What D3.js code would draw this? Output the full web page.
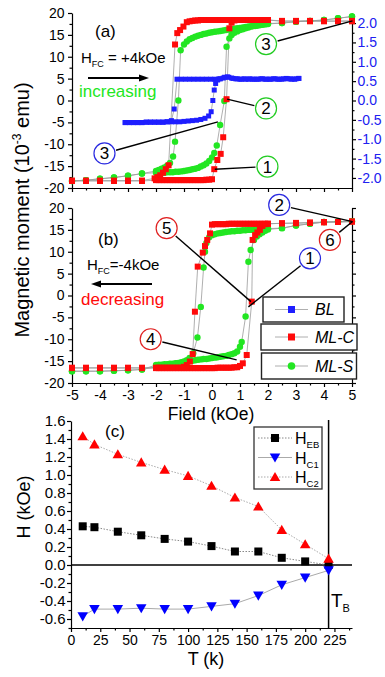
<!DOCTYPE html>
<html>
<head>
<meta charset="utf-8">
<script src="https://cdn.jsdelivr.net/npm/d3@7"></script>
<style>
  body { margin: 0; background: #fff; }
  svg { display: block; font-family: "Liberation Sans", Arial, sans-serif; }
  .axis path, .axis line { stroke: #000; stroke-width: 1.2; }
  .axis text { font-size: 14px; fill: #000; font-family: "Liberation Sans", Arial, sans-serif; }
</style>
</head>
<body>
<svg id="chart" width="385" height="677"></svg>
<script>
/*========== data ===========*/
// panel (a), field-cooled at +4 kOe. [field kOe, moment 1e-3 emu]
var mlcA_dec = [[5,18.2],[4.5,18.2],[4,18.2],[3.5,18.2],[3,18.2],[2.5,18.2],
  [2,18.4],[1.9,18.4],[1.8,18.4],[1.7,18.4],[1.6,18.4],[1.5,18.4],[1.4,18.4],[1.3,18.4],[1.2,18.4],[1.1,18.4],[1,18.4],
  [0.9,18.4],[0.8,18.4],[0.7,18.4],[0.6,18.4],[0.5,18.4],[0.4,18.4],[0.3,18.4],[0.2,18.4],[0.1,18.4],[0,18.4],
  [-0.1,18.4],[-0.2,18.4],[-0.3,18.4],[-0.4,18.4],[-0.5,18.3],[-0.6,18.3],[-0.7,18.2],[-0.8,18.1],[-0.9,17.9],
  [-1.02,16.9],[-1.14,16.1],[-1.24,15.4],[-1.32,12.8],[-1.55,-14.8],[-1.65,-15.7],[-1.75,-16.5],[-1.85,-17.1],[-1.95,-17.5],[-2.05,-17.8],
  [-2.5,-18.3],[-3,-18.3],[-3.5,-18.3],[-4,-18.3],[-4.5,-18.3],[-5,-18.3]];
var mlcA_inc = [[-5,-18.4],[-4.5,-18.4],[-4,-18.4],[-3.5,-18.4],[-3,-18.4],[-2.5,-18.4],
  [-2,-18.2],[-1.9,-18.2],[-1.8,-18.2],[-1.7,-18.2],[-1.6,-18.2],[-1.5,-18.2],[-1.4,-18.2],[-1.3,-18.2],[-1.2,-18.2],[-1.1,-18.2],
  [-1,-18.2],[-0.9,-18.2],[-0.8,-18.2],[-0.7,-18.2],[-0.6,-18.2],[-0.5,-18.2],[-0.4,-18.2],[-0.3,-18.2],[-0.2,-18.1],[-0.1,-18.1],[0,-18.0],
  [0.08,-15.7],[0.19,-13.6],[0.31,-12.2],[0.4,-8.4],[0.52,0.3],[0.62,16.5],[0.7,17.8],[0.8,18.3],
  [0.9,18.4],[1,18.4],[1.1,18.4],[1.2,18.4],[1.3,18.4],[1.4,18.4],[1.5,18.4],[1.6,18.4],[1.7,18.4],[1.8,18.4],[1.9,18.4],[2,18.4],
  [2.5,18.1],[3,18.1],[3.5,18.1],[4,18.1],[4.5,18.1],[5,18.1]];
var mlsA_dec = [[5,19.2],[4.5,18.8],[4,18.4],[3.5,18.2],[3,18.0],[2.5,17.7],
  [2,17.6],[1.9,17.5],[1.8,17.4],[1.7,17.3],[1.6,17.2],[1.5,17.1],[1.4,17.0],[1.3,16.9],[1.2,16.8],[1.1,16.7],[1,16.6],
  [0.9,16.5],[0.8,16.4],[0.7,16.3],[0.6,16.2],[0.5,16.1],[0.4,16.0],[0.3,15.9],[0.2,15.8],[0.1,15.7],[0,15.6],
  [-0.1,15.5],[-0.2,15.3],[-0.3,15.2],[-0.4,15.0],[-0.5,14.8],[-0.6,14.6],[-0.7,14.3],[-0.8,14.0],[-0.9,13.5],[-1,12.8],[-1.12,11.5],
  [-1.2,0.0],[-1.32,-9.4],[-1.39,-12.8],[-1.5,-14.3],[-1.6,-14.9],[-1.7,-15.3],[-1.8,-15.6],[-1.9,-15.9],[-2,-16.1],
  [-2.5,-16.7],[-3,-17.2],[-3.5,-17.6],[-4,-17.9],[-4.5,-18.2],[-5,-18.4]];
var mlsA_inc = [[-5,-18.4],[-4.5,-18.2],[-4,-17.9],[-3.5,-17.6],[-3,-17.2],[-2.5,-16.7],
  [-2,-16.5],[-1.9,-16.5],[-1.8,-16.5],[-1.7,-16.5],[-1.6,-16.4],[-1.5,-16.4],[-1.4,-16.4],[-1.3,-16.3],[-1.2,-16.3],[-1.1,-16.2],
  [-1,-16.1],[-0.9,-16.0],[-0.8,-15.9],[-0.7,-15.7],[-0.6,-15.6],[-0.5,-15.4],[-0.4,-15.1],[-0.3,-14.8],[-0.2,-14.4],[-0.1,-13.8],[0,-13.0],
  [0.08,-12.0],[0.17,-10.3],[0.29,-5.6],[0.44,-0.1],[0.52,12.3],[0.62,14.2],[0.7,15.0],[0.8,15.5],[0.9,15.8],
  [1,16.1],[1.1,16.3],[1.2,16.5],[1.3,16.7],[1.4,16.9],[1.5,17.0],[1.6,17.1],[1.7,17.2],[1.8,17.3],[1.9,17.4],[2,17.5],
  [2.5,17.7],[3,18.0],[3.5,18.2],[4,18.4],[4.5,18.8],[5,19.2]];
// BL loop, read on the right-hand (blue) axis
var blA_dec = [[3.1,0.57],[2.95,0.55],[2.8,0.56],[2.65,0.57],[2.5,0.55],[2.35,0.55],[2.2,0.56],[2.05,0.55],[1.9,0.55],
  [1.75,0.56],[1.6,0.55],[1.45,0.55],[1.3,0.55],[1.15,0.56],[1,0.55],[0.85,0.56],[0.7,0.58],[0.55,0.61],[0.4,0.58],
  [0.25,0.56],[0.1,0.55],[-0.05,0.55],[-0.2,0.55],[-0.35,0.55],[-0.5,0.55],[-0.65,0.55],[-0.8,0.55],[-0.95,0.55],
  [-1.1,0.55],[-1.25,0.55],[-1.35,-0.22],[-1.45,-0.52],[-1.6,-0.55],[-1.75,-0.56],[-1.9,-0.56],[-2.05,-0.56],
  [-2.2,-0.56],[-2.35,-0.56],[-2.5,-0.57],[-2.65,-0.57],[-2.8,-0.57],[-2.95,-0.57],[-3.1,-0.57]];
var blA_inc = [[-3.1,-0.57],[-2.95,-0.57],[-2.8,-0.57],[-2.65,-0.57],[-2.5,-0.57],[-2.35,-0.56],[-2.2,-0.56],
  [-2.05,-0.56],[-1.9,-0.56],[-1.75,-0.56],[-1.6,-0.55],[-1.45,-0.55],[-1.3,-0.55],[-1.15,-0.55],[-1,-0.54],
  [-0.85,-0.53],[-0.7,-0.52],[-0.55,-0.51],[-0.4,-0.49],[-0.25,-0.46],[-0.12,-0.4],[-0.03,-0.29],[0.03,0.0],
  [0.08,0.27],[0.13,0.44],[0.2,0.53],[0.3,0.56],[0.45,0.6],[0.6,0.6],[0.75,0.57],[0.9,0.56],[1.05,0.55],[1.2,0.55],
  [1.35,0.56],[1.5,0.55],[1.65,0.55],[1.8,0.56],[1.95,0.55],[2.1,0.55],[2.25,0.56],[2.4,0.55],[2.55,0.56],
  [2.7,0.56],[2.85,0.55],[3,0.56],[3.1,0.57]];

// panel (b), field-cooled at -4 kOe
var mlcB_dec = [[5,16.9],[4.5,16.8],[4,16.7],[3.5,16.6],[3,16.5],[2.5,16.5],
  [2,16.4],[1.9,16.4],[1.8,16.4],[1.7,16.4],[1.6,16.4],[1.5,16.4],[1.4,16.4],[1.3,16.4],[1.2,16.4],[1.1,16.4],[1,16.4],
  [0.9,16.4],[0.8,16.4],[0.7,16.4],[0.6,16.4],[0.5,16.3],[0.4,16.3],[0.3,16.3],[0.2,16.3],[0.1,16.3],[0,16.2],
  [-0.07,14.2],[-0.17,12.7],[-0.25,11.3],[-0.33,9.8],[-0.51,6.6],[-0.61,-3.7],[-0.69,-13.4],[-0.79,-15.1],[-0.9,-15.9],
  [-1,-16.3],[-1.1,-16.5],[-1.2,-16.5],[-1.3,-16.5],[-1.4,-16.5],[-1.5,-16.5],[-1.6,-16.5],[-1.7,-16.5],[-1.8,-16.5],[-1.9,-16.5],[-2,-16.5],
  [-2.5,-16.5],[-3,-16.5],[-3.5,-16.5],[-4,-16.5],[-4.5,-16.5],[-5,-16.5]];
var mlcB_inc = [[-5,-16.6],[-4.5,-16.6],[-4,-16.6],[-3.5,-16.6],[-3,-16.6],[-2.5,-16.6],
  [-2,-16.6],[-1.9,-16.6],[-1.8,-16.6],[-1.7,-16.6],[-1.6,-16.6],[-1.5,-16.6],[-1.4,-16.6],[-1.3,-16.6],[-1.2,-16.6],[-1.1,-16.6],
  [-1,-16.6],[-0.9,-16.6],[-0.8,-16.6],[-0.7,-16.6],[-0.6,-16.6],[-0.5,-16.6],[-0.4,-16.6],[-0.3,-16.6],[-0.2,-16.6],[-0.1,-16.6],
  [0,-16.6],[0.1,-16.6],[0.2,-16.5],[0.3,-16.5],[0.4,-16.5],[0.5,-16.5],[0.6,-16.5],[0.7,-16.5],[0.8,-16.4],[0.9,-16.4],
  [1,-16.1],[1.1,-15.5],[1.24,-13.6],[1.42,-1.4],[1.45,12.7],[1.54,13.8],[1.62,14.4],[1.71,15.0],[1.8,15.9],[1.9,16.3],[2,16.4],
  [2.5,16.5],[3,16.6],[3.5,16.7],[4,16.8],[4.5,16.8],[5,16.9]];
var mlsB_dec = [[5,17.0],[4.5,16.9],[4,16.8],[3.5,16.4],[3,16.0],[2.5,15.4],
  [2,15.3],[1.9,15.3],[1.8,15.2],[1.7,15.2],[1.6,15.1],[1.5,15.1],[1.4,15.0],[1.3,15.0],[1.2,14.9],[1.1,14.9],[1,14.8],
  [0.9,14.8],[0.8,14.7],[0.7,14.7],[0.6,14.6],[0.5,14.5],[0.4,14.4],[0.3,14.3],[0.2,14.2],[0.1,14.0],[0,13.8],
  [-0.1,13.3],[-0.2,12.0],[-0.25,10.0],[-0.3,6.4],[-0.4,-2.6],[-0.52,-9.6],[-0.67,-13.2],[-0.8,-14.3],[-0.9,-14.8],
  [-1,-15.1],[-1.1,-15.3],[-1.2,-15.5],[-1.3,-15.6],[-1.4,-15.7],[-1.5,-15.8],[-1.6,-15.9],[-1.7,-16.0],[-1.8,-16.1],[-1.9,-16.2],[-2,-16.3],
  [-2.5,-16.9],[-3,-17.1],[-3.5,-17.2],[-4,-17.3],[-4.5,-17.3],[-5,-17.3]];
var mlsB_inc = [[-5,-17.3],[-4.5,-17.3],[-4,-17.3],[-3.5,-17.2],[-3,-17.1],[-2.5,-16.9],
  [-2,-15.9],[-1.9,-15.8],[-1.8,-15.8],[-1.7,-15.7],[-1.6,-15.7],[-1.5,-15.6],[-1.4,-15.6],[-1.3,-15.5],[-1.2,-15.4],[-1.1,-15.3],
  [-1,-15.2],[-0.9,-15.1],[-0.8,-15.0],[-0.7,-14.9],[-0.6,-14.8],[-0.5,-14.7],[-0.4,-14.6],[-0.3,-14.5],[-0.2,-14.5],[-0.1,-14.4],
  [0,-14.3],[0.1,-14.2],[0.2,-14.1],[0.3,-14.0],[0.4,-13.9],[0.5,-13.8],[0.6,-13.6],[0.7,-13.4],[0.8,-13.2],[0.9,-12.8],
  [1,-11.7],[1.06,-10.6],[1.2,-4.8],[1.3,7.7],[1.38,10.4],[1.5,12.7],[1.6,13.5],[1.7,14.0],[1.8,14.4],[1.9,14.8],[2,15.1],
  [2.5,15.4],[3,16.0],[3.5,16.4],[4,16.8],[4.5,16.9],[5,17.0]];

// panel (c)
var temps = [10, 20, 40, 60, 80, 100, 120, 140, 160, 180, 200, 220];
var hEB = [0.43, 0.42, 0.37, 0.33, 0.29, 0.26, 0.21, 0.15, 0.15, 0.08, 0.04, 0.0];
var hC1 = [-0.57, -0.49, -0.49, -0.48, -0.49, -0.49, -0.46, -0.43, -0.34, -0.22, -0.14, -0.06];
var hC2 = [1.43, 1.34, 1.23, 1.14, 1.06, 0.99, 0.88, 0.75, 0.65, 0.39, 0.23, 0.07];
var tBlock = 220;

// ticks
var momentTicks = [-20, -15, -10, -5, 0, 5, 10, 15, 20];
var momentMinor = [-17.5, -12.5, -7.5, -2.5, 2.5, 7.5, 12.5, 17.5];
var fieldTicks = [-5, -4, -3, -2, -1, 0, 1, 2, 3, 4, 5];
var fieldMinor = [-4.5, -3.5, -2.5, -1.5, -0.5, 0.5, 1.5, 2.5, 3.5, 4.5];
var blTicks = [-2, -1.5, -1, -0.5, 0, 0.5, 1, 1.5, 2];
var blMinor = [-1.75, -1.25, -0.75, -0.25, 0.25, 0.75, 1.25, 1.75];
var hTicks = [-0.6, -0.4, -0.2, 0, 0.2, 0.4, 0.6, 0.8, 1.0, 1.2, 1.4, 1.6];
var hMinor = [-0.7, -0.5, -0.3, -0.1, 0.1, 0.3, 0.5, 0.7, 0.9, 1.1, 1.3, 1.5];
var tTicks = [0, 25, 50, 75, 100, 125, 150, 175, 200, 225];
var tMinor = [12.5, 37.5, 62.5, 87.5, 112.5, 137.5, 162.5, 187.5, 212.5, 237.5];

var RED = "#ff0a0a", GREEN = "#22e622", BLUE = "#1e1eff";

/*========== scales ===========*/
var svg = d3.select("#chart");
var xA = d3.scaleLinear().domain([-5, 5]).range([72, 352]);
var yA = d3.scaleLinear().domain([-20, 20]).range([188, 13]);
var yA2 = d3.scaleLinear().domain([-2.26, 2.26]).range([188, 13]);
var yB = d3.scaleLinear().domain([-20, 20]).range([383, 208]);
var xC = d3.scaleLinear().domain([0, 240]).range([71, 352]);
var yC = d3.scaleLinear().domain([-0.7, 1.6]).range([628, 421]);

var fmtInt = function (d) { return String(d); };
var fmt1 = function (d) { return d.toFixed(1); };

function addAxis(gen, tx, ty) {
    return svg.append("g").attr("class", "axis")
        .attr("transform", "translate(" + tx + "," + ty + ")")
        .call(gen);
}
function minor(gen, tx, ty) {
    var g = addAxis(gen.tickFormat("").tickSizeOuter(0), tx, ty);
    g.select(".domain").remove();
    return g;
}

/*========== axes (a) ===========*/
addAxis(d3.axisLeft(yA).tickValues(momentTicks).tickSize(4).tickPadding(3.5).tickSizeOuter(0).tickFormat(fmtInt), 72, 0);
minor(d3.axisLeft(yA).tickValues(momentMinor).tickSize(2.5), 72, 0);
addAxis(d3.axisBottom(xA).tickValues(fieldTicks).tickSize(4).tickSizeOuter(0).tickFormat(""), 0, 188);
minor(d3.axisBottom(xA).tickValues(fieldMinor).tickSize(2.5), 0, 188);
var rA = addAxis(d3.axisRight(yA2).tickValues(blTicks).tickSize(4).tickPadding(1.5).tickSizeOuter(0).tickFormat(fmt1), 352, 0);
rA.selectAll("text").style("fill", "#2020f0");
minor(d3.axisRight(yA2).tickValues(blMinor).tickSize(2.5), 352, 0);

/*========== axes (b) ===========*/
addAxis(d3.axisLeft(yB).tickValues(momentTicks).tickSize(4).tickPadding(3.5).tickSizeOuter(0).tickFormat(fmtInt), 72, 0);
minor(d3.axisLeft(yB).tickValues(momentMinor).tickSize(2.5), 72, 0);
addAxis(d3.axisBottom(xA).tickValues(fieldTicks).tickSize(4).tickPadding(3).tickSizeOuter(0).tickFormat(fmtInt), 0, 383);
minor(d3.axisBottom(xA).tickValues(fieldMinor).tickSize(2.5), 0, 383);
addAxis(d3.axisRight(yB).tickValues(momentTicks).tickSize(4).tickSizeOuter(0).tickFormat(""), 352, 0);
minor(d3.axisRight(yB).tickValues(momentMinor).tickSize(2.5), 352, 0);

/*========== axes (c) ===========*/
var lc = addAxis(d3.axisLeft(yC).tickValues(hTicks).tickSize(4).tickPadding(1.5).tickSizeOuter(0).tickFormat(fmt1), 71, 0);
lc.selectAll("text").style("font-size", "15px");
minor(d3.axisLeft(yC).tickValues(hMinor).tickSize(2.5), 71, 0);
addAxis(d3.axisBottom(xC).tickValues(tTicks).tickSize(4).tickPadding(3).tickSizeOuter(0).tickFormat(fmtInt), 0, 628);
minor(d3.axisBottom(xC).tickValues(tMinor).tickSize(2.5), 0, 628);

/*========== loops ===========*/
function drawLines(branches, x, y) {
    var line = d3.line().x(function (d) { return x(d[0]); }).y(function (d) { return y(d[1]); });
    svg.append("g").selectAll("path").data(branches).enter().append("path")
        .attr("d", line).attr("fill", "none").attr("stroke", "#9a9a9a").attr("stroke-width", 0.8);
}
function drawSquares(pts, x, y, s, color) {
    svg.append("g").selectAll("rect").data(pts).enter().append("rect")
        .attr("x", function (d) { return x(d[0]) - s / 2; })
        .attr("y", function (d) { return y(d[1]) - s / 2; })
        .attr("width", s).attr("height", s).attr("fill", color);
}
function drawCircles(pts, x, y, r, color) {
    svg.append("g").selectAll("circle").data(pts).enter().append("circle")
        .attr("cx", function (d) { return x(d[0]); })
        .attr("cy", function (d) { return y(d[1]); })
        .attr("r", r).attr("fill", color);
}

drawLines([mlsA_dec, mlsA_inc, mlcA_dec, mlcA_inc], xA, yA);
drawLines([blA_dec, blA_inc], xA, yA2);
drawCircles(mlsA_dec.concat(mlsA_inc), xA, yA, 3.2, GREEN);
drawSquares(mlcA_dec.concat(mlcA_inc), xA, yA, 6, RED);
drawSquares(blA_dec.concat(blA_inc), xA, yA2, 5, BLUE);

drawLines([mlsB_dec, mlsB_inc, mlcB_dec, mlcB_inc], xA, yB);
drawCircles(mlsB_dec.concat(mlsB_inc), xA, yB, 3.2, GREEN);
drawSquares(mlcB_dec.concat(mlcB_inc), xA, yB, 6, RED);

/*========== panel (c) ===========*/
svg.append("line").attr("x1", xC(0)).attr("x2", xC(240)).attr("y1", yC(0)).attr("y2", yC(0))
    .attr("stroke", "#000").attr("stroke-width", 1.5);
svg.append("line").attr("x1", xC(tBlock)).attr("x2", xC(tBlock)).attr("y1", 420).attr("y2", yC(-0.7))
    .attr("stroke", "#000").attr("stroke-width", 1.5);

var seriesC = [
    {vals: hEB, color: "#000", shape: "sq", dash: "1.5,1.5", lineColor: "#888"},
    {vals: hC1, color: "#0000ff", shape: "down", dash: null, lineColor: "#aaa"},
    {vals: hC2, color: "#ff0000", shape: "up", dash: "1.5,1.5", lineColor: "#aaa"}
];
var triSym = d3.symbol().type(d3.symbolTriangle).size(48);
function drawMarker(g, shape, color, cx, cy) {
    if (shape === "sq") {
        g.append("rect").attr("x", cx - 4).attr("y", cy - 4).attr("width", 8).attr("height", 8).attr("fill", color);
    } else {
        g.append("path").attr("d", triSym())
            .attr("transform", "translate(" + cx + "," + (shape === "up" ? cy + 1 : cy - 1) + ")" + (shape === "down" ? " rotate(180)" : ""))
            .attr("fill", color);
    }
}
seriesC.forEach(function (s) {
    var pts = temps.map(function (t, i) { return [t, s.vals[i]]; });
    var line = d3.line().x(function (d) { return xC(d[0]); }).y(function (d) { return yC(d[1]); });
    svg.append("path").attr("d", line(pts)).attr("fill", "none")
        .attr("stroke", s.lineColor).attr("stroke-width", 1)
        .attr("stroke-dasharray", s.dash);
});
seriesC.forEach(function (s) {
    var g = svg.append("g");
    temps.forEach(function (t, i) { drawMarker(g, s.shape, s.color, xC(t), yC(s.vals[i])); });
});

// legend (c)
var legC = svg.append("g");
legC.append("rect").attr("x", 254).attr("y", 427).attr("width", 68).attr("height", 62)
    .attr("fill", "#fff").attr("stroke", "#333").attr("stroke-width", 1.3);
var legCNames = ["EB", "C1", "C2"];
seriesC.forEach(function (s, i) {
    var cy = 438 + i * 19.5;
    legC.append("line").attr("x1", 258).attr("x2", 292).attr("y1", cy).attr("y2", cy)
        .attr("stroke", s.lineColor).attr("stroke-width", 1).attr("stroke-dasharray", s.dash);
    drawMarker(legC, s.shape, s.color, 275, cy);
    var t = legC.append("text").attr("x", 295).attr("y", cy + 6).attr("font-size", 16).text("H");
    t.append("tspan").attr("font-size", 9.5).attr("dy", 4).text(legCNames[i]);
});

/*========== text ===========*/
function txt(x, y, s, size, opts) {
    opts = opts || {};
    return svg.append("text").attr("x", x).attr("y", y).attr("font-size", size)
        .attr("text-anchor", opts.anchor || "start").attr("fill", opts.fill || "#000")
        .attr("font-style", opts.italic ? "italic" : null).text(s);
}
txt(95, 37, "(a)", 17);
txt(98, 245, "(b)", 17);
txt(105, 437, "(c)", 17);

var hA = txt(81, 63, "H", 15);
hA.append("tspan").attr("font-size", 9).attr("dy", 4).text("FC");
hA.append("tspan").attr("dy", -4).text(" = +4kOe");
txt(79, 97, "increasing", 17, {fill: GREEN});
var hB = txt(87, 270, "H", 15);
hB.append("tspan").attr("font-size", 9).attr("dy", 4).text("FC");
hB.append("tspan").attr("dy", -4).text("=-4kOe");
txt(81, 305, "decreasing", 17, {fill: RED});

function arrow(x1, x2, y) {
    var dir = x2 > x1 ? 1 : -1;
    svg.append("line").attr("x1", x1).attr("x2", x2 - dir * 8).attr("y1", y).attr("y2", y)
        .attr("stroke", "#000").attr("stroke-width", 2);
    svg.append("path").attr("d", "M" + x2 + "," + y + "L" + (x2 - dir * 10) + "," + (y - 3.5) + "L" + (x2 - dir * 10) + "," + (y + 3.5) + "Z")
        .attr("fill", "#000");
}
arrow(88, 149, 78);
arrow(152, 91, 284);

// numbered call-outs: circle position and target in data units
var notesA = [
    {t: "3", c: "#2a2ae0", cx: -3.84, cy: -12.1, tx: 0.21, ty: -4.9},
    {t: "2", c: "#22cc22", cx: 1.93, cy: -1.8, tx: 0.54, ty: 0.3},
    {t: "1", c: "#22cc22", cx: 1.98, cy: -15.1, tx: 0.1, ty: -15.7},
    {t: "3", c: "#22cc22", cx: 1.93, cy: 12.9, tx: 5.02, ty: 18.2}
];
var notesB = [
    {t: "5", c: "#e02020", cx: -1.62, cy: 15.4, tx: 1.39, ty: -1.4},
    {t: "4", c: "#e02020", cx: -2.19, cy: -10, tx: 0.88, ty: -14.7},
    {t: "1", c: "#2a2ae0", cx: 3.5, cy: 8.5, tx: 1.3, ty: -2.6},
    {t: "2", c: "#2a2ae0", cx: 2.4, cy: 20.7, tx: 5.02, ty: 16.9},
    {t: "6", c: "#e02020", cx: 4.21, cy: 12.7, tx: 5.02, ty: 16.9}
];
function drawNotes(notes, x, y) {
    var R = 10.5;
    notes.forEach(function (n) {
        var px = x(n.cx), py = y(n.cy), qx = x(n.tx), qy = y(n.ty);
        var L = Math.hypot(qx - px, qy - py);
        svg.append("line")
            .attr("x1", px + (qx - px) / L * (R + 1.5)).attr("y1", py + (qy - py) / L * (R + 1.5))
            .attr("x2", qx).attr("y2", qy).attr("stroke", "#000").attr("stroke-width", 1.4);
        svg.append("circle").attr("cx", px).attr("cy", py).attr("r", R)
            .attr("fill", "#fff").attr("stroke", n.c).attr("stroke-width", 1.2);
        svg.append("text").attr("x", px).attr("y", py + 6).attr("text-anchor", "middle")
            .attr("font-size", 17).text(n.t);
    });
}
drawNotes(notesA, xA, yA);
drawNotes(notesB, xA, yB);

// legend (b): three separate boxes
var legB = [
    {name: "BL", shape: "sq", color: BLUE, y: 297, h: 25, x: 263, w: 81},
    {name: "ML-C", shape: "sq", color: RED, y: 324, h: 26, x: 261, w: 96},
    {name: "ML-S", shape: "ci", color: GREEN, y: 353, h: 26, x: 261.5, w: 95}
];
legB.forEach(function (e) {
    var g = svg.append("g");
    var cy = e.y + e.h / 2;
    g.append("rect").attr("x", e.x).attr("y", e.y).attr("width", e.w).attr("height", e.h)
        .attr("fill", "#fff").attr("stroke", "#222").attr("stroke-width", 1.4);
    g.append("line").attr("x1", 275).attr("x2", 308).attr("y1", cy).attr("y2", cy)
        .attr("stroke", "#9a9a9a").attr("stroke-width", 0.8);
    if (e.shape === "sq") {
        g.append("rect").attr("x", 291.5 - 3.5).attr("y", cy - 3.5).attr("width", 7).attr("height", 7).attr("fill", e.color);
    } else {
        g.append("circle").attr("cx", 291.5).attr("cy", cy).attr("r", 3.8).attr("fill", e.color);
    }
    g.append("text").attr("x", 315).attr("y", cy + 5.5).attr("font-size", 16).attr("font-style", "italic").text(e.name);
});

// axis titles
var yt = svg.append("text").attr("transform", "translate(29,210) rotate(-90)")
    .attr("text-anchor", "middle").attr("font-size", 20).text("Magnetic moment (10");
yt.append("tspan").attr("font-size", 12).attr("dy", -8).text("-3");
yt.append("tspan").attr("dy", 8).text(" emu)");
txt(211, 420, "Field (kOe)", 17.5, {anchor: "middle"});
svg.append("text").attr("transform", "translate(30,507) rotate(-90)")
    .attr("text-anchor", "middle").attr("font-size", 18).text("H (kOe)");
txt(206, 665, "T (k)", 18, {anchor: "middle"});
var tb = txt(331, 607, "T", 19);
tb.append("tspan").attr("font-size", 11).attr("dy", 5).text("B");
</script>
</body>
</html>
